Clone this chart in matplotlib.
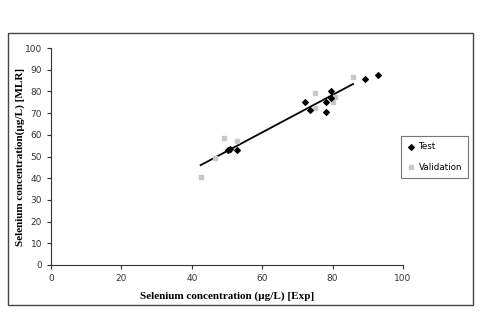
import numpy as np
import matplotlib.pyplot as plt
from matplotlib.patches import Rectangle

# datos
test_x = [92.8, 89.3, 79.6, 72.2, 78.1, 79.5, 73.6, 78.1, 50.9, 52.9, 50.2]
test_y = [87.4, 85.9, 80.2, 75.3, 75.3, 77.1, 71.4, 70.6, 53.3, 52.8, 53.2]

val_x = [85.8, 75.0, 80.8, 80.0, 75.0, 49.1, 52.7, 46.6, 42.5, 50.6]
val_y = [86.5, 79.4, 77.6, 75.0, 72.5, 58.4, 57.3, 49.2, 40.7, 53.0]

trend_x = [42.5, 85.8]
trend_y = [46.0, 83.4]

ticks = [0, 20, 40, 60, 80, 100]
yticks = list(range(0, 101, 10))

fig = plt.figure(figsize=(4.84, 3.14), dpi=100)
fig.patch.set_facecolor('white')

# marco exterior
fig.patches.append(Rectangle((8 / 484, 1 - 305 / 314), 465 / 484, 272 / 314,
                             transform=fig.transFigure, fill=False,
                             edgecolor='#444444', linewidth=1.0))

ax = fig.add_axes([51 / 484, 49 / 314, 352 / 484, 217 / 314])
ax.plot(trend_x, trend_y, color='black', linewidth=1.3, zorder=2)
ax.scatter(val_x, val_y, marker='s', s=10, color='#c8c8c8', zorder=3,
           label='Validation')
ax.scatter(test_x, test_y, marker='D', s=8, color='black', zorder=4,
           label='Test')

ax.set_xlim(0, 100)
ax.set_ylim(0, 100)
ax.set_xticks(ticks)
ax.set_yticks(yticks)
for s in ['top', 'right']:
    ax.spines[s].set_visible(False)
for s in ['left', 'bottom']:
    ax.spines[s].set_color('#333333')
    ax.spines[s].set_linewidth(0.8)
ax.tick_params(axis='both', direction='out', length=3, width=0.8,
               labelsize=6.5, labelcolor='#333333', colors='#333333')
ax.set_xlabel("Selenium concentration (µg/L) [Exp]", family='Liberation Serif',
              fontweight='bold', fontsize=8, labelpad=6)
ax.set_ylabel("Selenium concentration(µg/L) [MLR]", family='Liberation Serif',
              fontweight='bold', fontsize=8, labelpad=0)

handles, labels = ax.get_legend_handles_labels()
leg = fig.legend([handles[1], handles[0]], [labels[1], labels[0]],
                 loc='upper left', bbox_to_anchor=(401 / 484, 1 - 136 / 314),
                 fontsize=6.3, frameon=True, fancybox=False, edgecolor='#555555',
                 borderpad=0.7, labelspacing=1.3, handletextpad=0.4,
                 handlelength=0.9, borderaxespad=0)
leg.get_frame().set_linewidth(0.8)

plt.savefig('out.png', dpi=100, facecolor='white')
plt.close()
